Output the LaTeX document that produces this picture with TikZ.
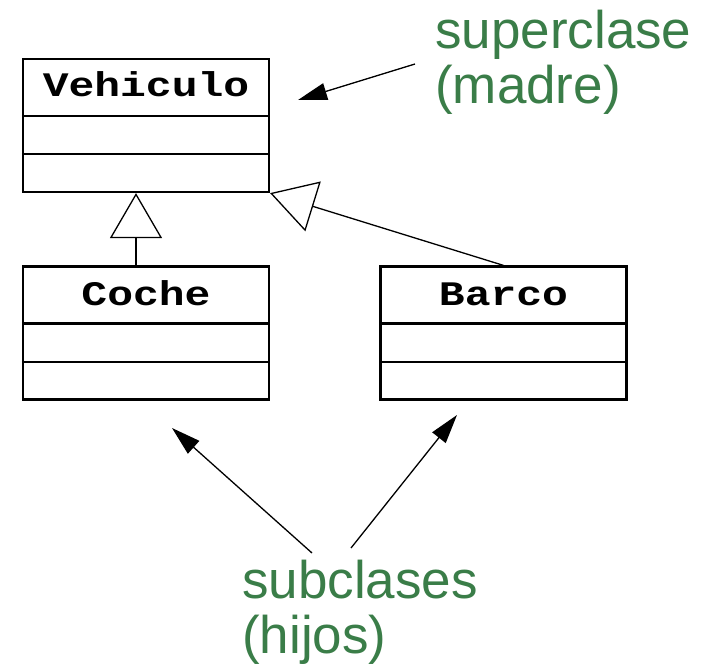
\documentclass[tikz,border=0pt]{standalone}
\usepackage{fontspec}
\setmainfont{Liberation Sans}
\newfontfamily\classfont{Liberation Mono}
\usetikzlibrary{arrows.meta}
\definecolor{labelgreen}{RGB}{58,125,72}
\newcommand{\clsname}[1]{\scalebox{1}[0.8]{#1}}
\begin{document}
\begin{tikzpicture}[x=1pt,y=-1pt,
  classbox/.style={draw,line width=2.2pt,minimum width=246pt,minimum height=133pt,inner sep=0pt},
  classname/.style={anchor=base,inner sep=0pt,font=\classfont\bfseries\fontsize{43}{43}\selectfont},
  divider/.style={line width=2.2pt},
  inherit/.style={line width=1.3pt,-{Triangle[open,length=45pt,width=52pt]}},
  pointer/.style={line width=1.3pt,-{Triangle[length=29pt,width=17pt]}},
  note/.style={inner sep=0pt,align=left,text=labelgreen,font=\fontsize{53}{55}\selectfont}]
\useasboundingbox (0,0) rectangle (718,669);
% classes
\node[classbox] (veh) at (146,125.5) {};
\node[classbox] (coche) at (146,333) {};
\node[classbox] (barco) at (503.5,333) {};
\draw[divider] (veh.west |- 0,116) -- (veh.east |- 0,116);
\draw[divider] (veh.west |- 0,154) -- (veh.east |- 0,154);
\draw[divider] (coche.west |- 0,323.5) -- (coche.east |- 0,323.5);
\draw[divider] (coche.west |- 0,362) -- (coche.east |- 0,362);
\draw[divider] (barco.west |- 0,323.5) -- (barco.east |- 0,323.5);
\draw[divider] (barco.west |- 0,362) -- (barco.east |- 0,362);
\node[classname] (vehname) at (146,96) {\clsname{Vehiculo}};
\node[classname] (cochename) at (146,305) {\clsname{Coche}};
\node[classname] (barconame) at (503.5,305) {\clsname{Barco}};
% inheritance
\draw[inherit] ([xshift=-10pt]coche.north) -- ([xshift=-10pt]veh.south);
\draw[inherit] (barco.north) -- (veh.south east);
% labels
\node[note,anchor=base west] (sup) at (435,103) {superclase\\(madre)};
\node[note,anchor=base west] (sub) at (242,653) {subclases\\(hijos)};
\coordinate (supfrom) at (415,64);
\coordinate (supto) at (298,100);
\coordinate (subfromA) at (312,553);
\coordinate (subtoA) at (172,428);
\coordinate (subfromB) at (351,548);
\coordinate (subtoB) at (457,415);
\draw[pointer] (supfrom) -- (supto);
\draw[pointer] (subfromA) -- (subtoA);
\draw[pointer] (subfromB) -- (subtoB);
\end{tikzpicture}
\end{document}
